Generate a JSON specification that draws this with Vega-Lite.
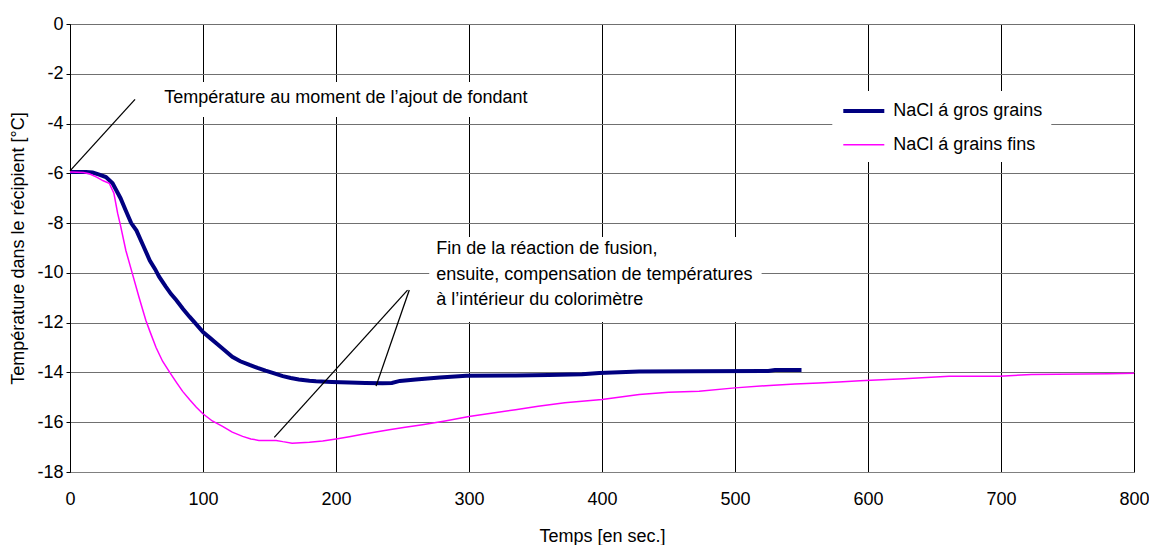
{
  "$schema": "https://vega.github.io/schema/vega-lite/v6.json",
  "width": 1064,
  "height": 448,
  "autosize": {"type": "none"},
  "padding": {"left": 70, "top": 24, "right": 15, "bottom": 73},
  "background": "white",
  "config": {
    "font": "Liberation Sans",
    "view": {"stroke": "#808080", "strokeWidth": 1},
    "axis": {"labelFont": "Liberation Sans", "titleFont": "Liberation Sans", "labelFontSize": 18, "titleFontSize": 18, "titleFontWeight": "normal", "labelColor": "#000", "titleColor": "#000", "labelFlush": false, "labelOverlap": false, "labelExpr": "toString(datum.value)"},
    "legend": {"labelFont": "Liberation Sans"}
  },
  "datasets": {
    "gros": [
      {"t": 0, "temp": -5.95, "s": "NaCl á gros grains"},
      {"t": 12, "temp": -5.95, "s": "NaCl á gros grains"},
      {"t": 17, "temp": -5.97, "s": "NaCl á gros grains"},
      {"t": 22, "temp": -6.05, "s": "NaCl á gros grains"},
      {"t": 27, "temp": -6.15, "s": "NaCl á gros grains"},
      {"t": 30, "temp": -6.3, "s": "NaCl á gros grains"},
      {"t": 32, "temp": -6.4, "s": "NaCl á gros grains"},
      {"t": 35, "temp": -6.7, "s": "NaCl á gros grains"},
      {"t": 38, "temp": -7.0, "s": "NaCl á gros grains"},
      {"t": 42, "temp": -7.5, "s": "NaCl á gros grains"},
      {"t": 46, "temp": -8.0, "s": "NaCl á gros grains"},
      {"t": 50, "temp": -8.3, "s": "NaCl á gros grains"},
      {"t": 55, "temp": -8.9, "s": "NaCl á gros grains"},
      {"t": 60, "temp": -9.5, "s": "NaCl á gros grains"},
      {"t": 64, "temp": -9.85, "s": "NaCl á gros grains"},
      {"t": 67, "temp": -10.15, "s": "NaCl á gros grains"},
      {"t": 72, "temp": -10.55, "s": "NaCl á gros grains"},
      {"t": 76, "temp": -10.85, "s": "NaCl á gros grains"},
      {"t": 80, "temp": -11.1, "s": "NaCl á gros grains"},
      {"t": 85, "temp": -11.45, "s": "NaCl á gros grains"},
      {"t": 90, "temp": -11.77, "s": "NaCl á gros grains"},
      {"t": 95, "temp": -12.07, "s": "NaCl á gros grains"},
      {"t": 100, "temp": -12.38, "s": "NaCl á gros grains"},
      {"t": 105, "temp": -12.6, "s": "NaCl á gros grains"},
      {"t": 110, "temp": -12.83, "s": "NaCl á gros grains"},
      {"t": 116, "temp": -13.1, "s": "NaCl á gros grains"},
      {"t": 122, "temp": -13.37, "s": "NaCl á gros grains"},
      {"t": 128, "temp": -13.55, "s": "NaCl á gros grains"},
      {"t": 135, "temp": -13.7, "s": "NaCl á gros grains"},
      {"t": 141, "temp": -13.82, "s": "NaCl á gros grains"},
      {"t": 147, "temp": -13.93, "s": "NaCl á gros grains"},
      {"t": 153, "temp": -14.03, "s": "NaCl á gros grains"},
      {"t": 160, "temp": -14.15, "s": "NaCl á gros grains"},
      {"t": 166, "temp": -14.22, "s": "NaCl á gros grains"},
      {"t": 172, "temp": -14.28, "s": "NaCl á gros grains"},
      {"t": 180, "temp": -14.33, "s": "NaCl á gros grains"},
      {"t": 185, "temp": -14.35, "s": "NaCl á gros grains"},
      {"t": 197, "temp": -14.38, "s": "NaCl á gros grains"},
      {"t": 210, "temp": -14.4, "s": "NaCl á gros grains"},
      {"t": 222, "temp": -14.42, "s": "NaCl á gros grains"},
      {"t": 235, "temp": -14.43, "s": "NaCl á gros grains"},
      {"t": 242, "temp": -14.42, "s": "NaCl á gros grains"},
      {"t": 248, "temp": -14.34, "s": "NaCl á gros grains"},
      {"t": 260, "temp": -14.28, "s": "NaCl á gros grains"},
      {"t": 278, "temp": -14.2, "s": "NaCl á gros grains"},
      {"t": 298, "temp": -14.13, "s": "NaCl á gros grains"},
      {"t": 335, "temp": -14.12, "s": "NaCl á gros grains"},
      {"t": 360, "temp": -14.1, "s": "NaCl á gros grains"},
      {"t": 385, "temp": -14.07, "s": "NaCl á gros grains"},
      {"t": 398, "temp": -14.02, "s": "NaCl á gros grains"},
      {"t": 428, "temp": -13.96, "s": "NaCl á gros grains"},
      {"t": 470, "temp": -13.95, "s": "NaCl á gros grains"},
      {"t": 525, "temp": -13.94, "s": "NaCl á gros grains"},
      {"t": 530, "temp": -13.9, "s": "NaCl á gros grains"},
      {"t": 550, "temp": -13.9, "s": "NaCl á gros grains"}
    ],
    "fins": [
      {"t": 0, "temp": -5.95, "s": "NaCl á grains fins"},
      {"t": 10, "temp": -5.97, "s": "NaCl á grains fins"},
      {"t": 14.5, "temp": -6.02, "s": "NaCl á grains fins"},
      {"t": 20, "temp": -6.15, "s": "NaCl á grains fins"},
      {"t": 25, "temp": -6.3, "s": "NaCl á grains fins"},
      {"t": 29.5, "temp": -6.4, "s": "NaCl á grains fins"},
      {"t": 33, "temp": -6.8, "s": "NaCl á grains fins"},
      {"t": 35.8, "temp": -7.6, "s": "NaCl á grains fins"},
      {"t": 38, "temp": -8.1, "s": "NaCl á grains fins"},
      {"t": 42, "temp": -9.1, "s": "NaCl á grains fins"},
      {"t": 47, "temp": -10.05, "s": "NaCl á grains fins"},
      {"t": 52, "temp": -11.0, "s": "NaCl á grains fins"},
      {"t": 57, "temp": -11.9, "s": "NaCl á grains fins"},
      {"t": 60, "temp": -12.34, "s": "NaCl á grains fins"},
      {"t": 64.7, "temp": -13.0, "s": "NaCl á grains fins"},
      {"t": 69.6, "temp": -13.55, "s": "NaCl á grains fins"},
      {"t": 75, "temp": -14.0, "s": "NaCl á grains fins"},
      {"t": 80, "temp": -14.4, "s": "NaCl á grains fins"},
      {"t": 84.7, "temp": -14.76, "s": "NaCl á grains fins"},
      {"t": 90, "temp": -15.1, "s": "NaCl á grains fins"},
      {"t": 95, "temp": -15.4, "s": "NaCl á grains fins"},
      {"t": 99.7, "temp": -15.65, "s": "NaCl á grains fins"},
      {"t": 107, "temp": -15.95, "s": "NaCl á grains fins"},
      {"t": 114.7, "temp": -16.17, "s": "NaCl á grains fins"},
      {"t": 122, "temp": -16.4, "s": "NaCl á grains fins"},
      {"t": 129.8, "temp": -16.57, "s": "NaCl á grains fins"},
      {"t": 136, "temp": -16.67, "s": "NaCl á grains fins"},
      {"t": 142, "temp": -16.73, "s": "NaCl á grains fins"},
      {"t": 155, "temp": -16.73, "s": "NaCl á grains fins"},
      {"t": 160, "temp": -16.78, "s": "NaCl á grains fins"},
      {"t": 167, "temp": -16.84, "s": "NaCl á grains fins"},
      {"t": 180, "temp": -16.8, "s": "NaCl á grains fins"},
      {"t": 190, "temp": -16.75, "s": "NaCl á grains fins"},
      {"t": 200, "temp": -16.67, "s": "NaCl á grains fins"},
      {"t": 210, "temp": -16.58, "s": "NaCl á grains fins"},
      {"t": 220, "temp": -16.48, "s": "NaCl á grains fins"},
      {"t": 230, "temp": -16.39, "s": "NaCl á grains fins"},
      {"t": 240, "temp": -16.3, "s": "NaCl á grains fins"},
      {"t": 252, "temp": -16.2, "s": "NaCl á grains fins"},
      {"t": 265, "temp": -16.1, "s": "NaCl á grains fins"},
      {"t": 282, "temp": -15.95, "s": "NaCl á grains fins"},
      {"t": 300, "temp": -15.77, "s": "NaCl á grains fins"},
      {"t": 318, "temp": -15.63, "s": "NaCl á grains fins"},
      {"t": 335, "temp": -15.5, "s": "NaCl á grains fins"},
      {"t": 352, "temp": -15.36, "s": "NaCl á grains fins"},
      {"t": 372, "temp": -15.22, "s": "NaCl á grains fins"},
      {"t": 400, "temp": -15.09, "s": "NaCl á grains fins"},
      {"t": 428, "temp": -14.89, "s": "NaCl á grains fins"},
      {"t": 450, "temp": -14.8, "s": "NaCl á grains fins"},
      {"t": 473, "temp": -14.76, "s": "NaCl á grains fins"},
      {"t": 500, "temp": -14.62, "s": "NaCl á grains fins"},
      {"t": 526, "temp": -14.52, "s": "NaCl á grains fins"},
      {"t": 545, "temp": -14.46, "s": "NaCl á grains fins"},
      {"t": 563, "temp": -14.42, "s": "NaCl á grains fins"},
      {"t": 578, "temp": -14.38, "s": "NaCl á grains fins"},
      {"t": 594, "temp": -14.33, "s": "NaCl á grains fins"},
      {"t": 627, "temp": -14.25, "s": "NaCl á grains fins"},
      {"t": 661, "temp": -14.15, "s": "NaCl á grains fins"},
      {"t": 699, "temp": -14.15, "s": "NaCl á grains fins"},
      {"t": 723, "temp": -14.08, "s": "NaCl á grains fins"},
      {"t": 781, "temp": -14.05, "s": "NaCl á grains fins"},
      {"t": 800, "temp": -14.03, "s": "NaCl á grains fins"}
    ],
    "boxes": [
      {"t": 67.2, "t2": 358.9, "temp": -2.33, "temp2": -3.74},
      {"t": 270.1, "t2": 520, "temp": -8.56, "temp2": -11.97}
    ],
    "pointers": [
      {"t": 0, "temp": -5.9, "t2": 48.9, "temp2": -3.03},
      {"t": 253.8, "temp": -10.69, "t2": 153.6, "temp2": -16.61},
      {"t": 255.1, "temp": -10.69, "t2": 230.1, "temp2": -14.55}
    ],
    "notes": [
      {"t": 70.9, "temp": -2.98, "label": "Température au moment de l’ajout de fondant"},
      {"t": 275.4, "temp": -9.04, "label": "Fin de la réaction de fusion,"},
      {"t": 275.4, "temp": -10.07, "label": "ensuite, compensation de températures"},
      {"t": 275.4, "temp": -11.09, "label": "à l’intérieur du colorimètre"}
    ]
  },
  "encoding": {
    "x": {
      "field": "t", "type": "quantitative",
      "scale": {"domain": [0, 800], "nice": false, "zero": false},
      "axis": {"title": "Temps [en sec.]", "values": [0, 100, 200, 300, 400, 500, 600, 700, 800], "grid": true, "gridColor": "#000", "gridWidth": 1, "gridOpacity": 1, "domainColor": "#808080", "ticks": false, "tickSize": 0, "labelPadding": 18, "titlePadding": 19}
    },
    "y": {
      "field": "temp", "type": "quantitative",
      "scale": {"domain": [-18, 0], "nice": false, "zero": false},
      "axis": {"title": "Température dans le récipient [°C]", "values": [-18, -16, -14, -12, -10, -8, -6, -4, -2, 0], "grid": true, "gridColor": "#707070", "gridWidth": 1, "gridOpacity": 1, "domainColor": "#000", "tickColor": "#000", "tickSize": 4, "labelPadding": 3, "titlePadding": 9}
    }
  },
  "layer": [
    {
      "data": {"name": "boxes"},
      "mark": {"type": "rect", "fill": "white", "strokeWidth": 0},
      "encoding": {"x2": {"field": "t2"}, "y2": {"field": "temp2"}}
    },
    {
      "data": {"name": "gros"},
      "mark": {"type": "line", "interpolate": "linear"},
      "encoding": {
        "color": {"field": "s", "type": "nominal", "scale": {"domain": ["NaCl á gros grains", "NaCl á grains fins"], "range": ["#000080", "#FF00FF"]},
          "legend": {"orient": "none", "legendX": 762.3, "legendY": 67, "title": null, "symbolType": "M-0.9,0L3.2,0", "symbolSize": 400, "labelFontSize": 18, "labelColor": "#000", "labelOffset": 29, "rowPadding": 13.7, "padding": 8, "fillColor": "white", "strokeColor": null}},
        "strokeWidth": {"field": "s", "type": "nominal", "scale": {"domain": ["NaCl á gros grains", "NaCl á grains fins"], "range": [4, 1.5]}}
      }
    },
    {
      "data": {"name": "fins"},
      "mark": {"type": "line", "interpolate": "linear"},
      "encoding": {
        "color": {"field": "s", "type": "nominal"},
        "strokeWidth": {"field": "s", "type": "nominal"}
      }
    },
    {
      "data": {"name": "pointers"},
      "mark": {"type": "rule", "color": "#000", "strokeWidth": 1.3},
      "encoding": {"x2": {"field": "t2"}, "y2": {"field": "temp2"}}
    },
    {
      "data": {"name": "notes"},
      "mark": {"type": "text", "align": "left", "baseline": "middle", "fontSize": 18, "font": "Liberation Sans", "color": "#000"},
      "encoding": {"text": {"field": "label"}}
    }
  ]
}
